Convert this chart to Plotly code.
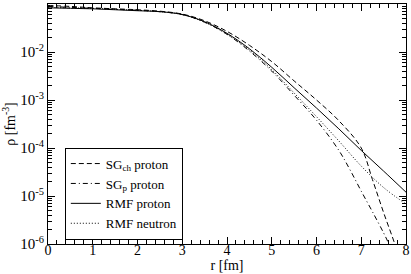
import plotly.graph_objects as go

# ---- data ----
r_half = [0, 0.5, 1, 1.5, 2, 2.5, 3, 3.5, 4, 4.5, 5, 5.5, 6, 6.5, 7, 7.5, 8]

rmf_proton = [0.0832, 0.0813, 0.0794, 0.0759, 0.0724, 0.0692, 0.0603, 0.0427, 0.0245,
              0.0117, 4.8e-3, 1.8e-3, 6.8e-4, 2.5e-4, 8.9e-5, 3.3e-5, 1.2e-5]
rmf_neutron = [0.0851, 0.0832, 0.0813, 0.0776, 0.0741, 0.0692, 0.0603, 0.0417, 0.0234,
               0.0110, 4.3e-3, 1.4e-3, 4.5e-4, 1.4e-4, 4.2e-5, 1.5e-5, 6.8e-6]

r_sgch = [0, 0.5, 1, 1.5, 2, 2.5, 3, 3.5, 4, 4.5, 5, 5.5, 6, 6.5, 7, 7.25, 7.5, 7.75, 7.85]
sgch_proton = [0.0933, 0.0891, 0.0832, 0.0794, 0.0759, 0.0708, 0.0617, 0.0447, 0.0269,
               0.0138, 6.3e-3, 2.5e-3, 1.0e-3, 3.7e-4, 1.0e-4, 2.2e-5, 4.5e-6, 1.0e-6, 5e-7]

r_sgp = [0, 0.5, 1, 1.5, 2, 2.5, 3, 3.5, 4, 4.5, 5, 5.5, 6, 6.5, 6.75, 7, 7.25, 7.5, 7.62, 7.7]
sgp_proton = [0.0891, 0.0851, 0.0813, 0.0776, 0.0741, 0.0692, 0.0603, 0.0417, 0.0234,
              0.0105, 4.0e-3, 1.26e-3, 3.8e-4, 8.9e-5, 3.5e-5, 1.26e-5, 4.7e-6, 1.7e-6, 1.0e-6, 7e-7]

x_ticks = [0, 1, 2, 3, 4, 5, 6, 7, 8]
y_tickvals = [1e-6, 1e-5, 1e-4, 1e-3, 1e-2, 1e-1]
y_ticktext = ["10<sup>-6</sup>", "10<sup>-5</sup>", "10<sup>-4</sup>",
              "10<sup>-3</sup>", "10<sup>-2</sup>", "10<sup>-1</sup>"]

FONT = "Liberation Serif, Times New Roman, serif"

fig = go.Figure()
fig.add_trace(go.Scatter(x=r_sgch, y=sgch_proton, mode="lines", name="SG<sub>ch</sub> proton",
                         line=dict(color="black", width=1, dash="5px,3px", shape="spline")))
fig.add_trace(go.Scatter(x=r_sgp, y=sgp_proton, mode="lines", name="SG<sub>p</sub> proton",
                         line=dict(color="black", width=1, dash="5px,3px,1px,3px", shape="spline")))
fig.add_trace(go.Scatter(x=r_half, y=rmf_proton, mode="lines", name="RMF proton",
                         line=dict(color="black", width=1, shape="spline")))
fig.add_trace(go.Scatter(x=r_half, y=rmf_neutron, mode="lines", name="RMF neutron",
                         line=dict(color="black", width=1, dash="1px,2px", shape="spline")))

fig.update_layout(
    width=411, height=274,
    margin=dict(l=48, r=5, t=4, b=30, autoexpand=False),
    paper_bgcolor="white", plot_bgcolor="white",
    font=dict(family=FONT, size=14, color="black"),
    showlegend=True,
    legend=dict(x=0.047, y=0.21, xanchor="left", yanchor="middle",
                bgcolor="white", bordercolor="black", borderwidth=1,
                font=dict(family=FONT, size=13), itemwidth=30,
                tracegroupgap=0),
)
fig.update_xaxes(
    range=[0, 8], tickvals=x_ticks, showgrid=False, zeroline=False, automargin=False,
    showline=True, linecolor="black", linewidth=1, mirror="ticks",
    ticks="inside", ticklen=7, tickcolor="black",
    minor=dict(ticks="inside", ticklen=4, dtick=0.2, tickcolor="black", showgrid=False),
    title=dict(text="r [fm]", standoff=0, font=dict(family=FONT, size=14)),
    tickfont=dict(family=FONT, size=14), ticklabelstandoff=-7,
)
fig.update_yaxes(
    type="log", range=[-6, -1], tickvals=y_tickvals, ticktext=y_ticktext,
    showgrid=False, zeroline=False, automargin=False,
    showline=True, linecolor="black", linewidth=1, mirror="ticks",
    ticks="inside", ticklen=7, tickcolor="black",
    minor=dict(ticks="inside", ticklen=4, dtick="D1", tickcolor="black", showgrid=False),
    title=dict(text="ρ [fm<sup>-3</sup>]", standoff=1, font=dict(family=FONT, size=14)),
    tickfont=dict(family=FONT, size=15),
)

fig.write_html("out.html", config={"displayModeBar": False},
               post_script="document.body.style.margin='0';document.body.style.padding='0';")
